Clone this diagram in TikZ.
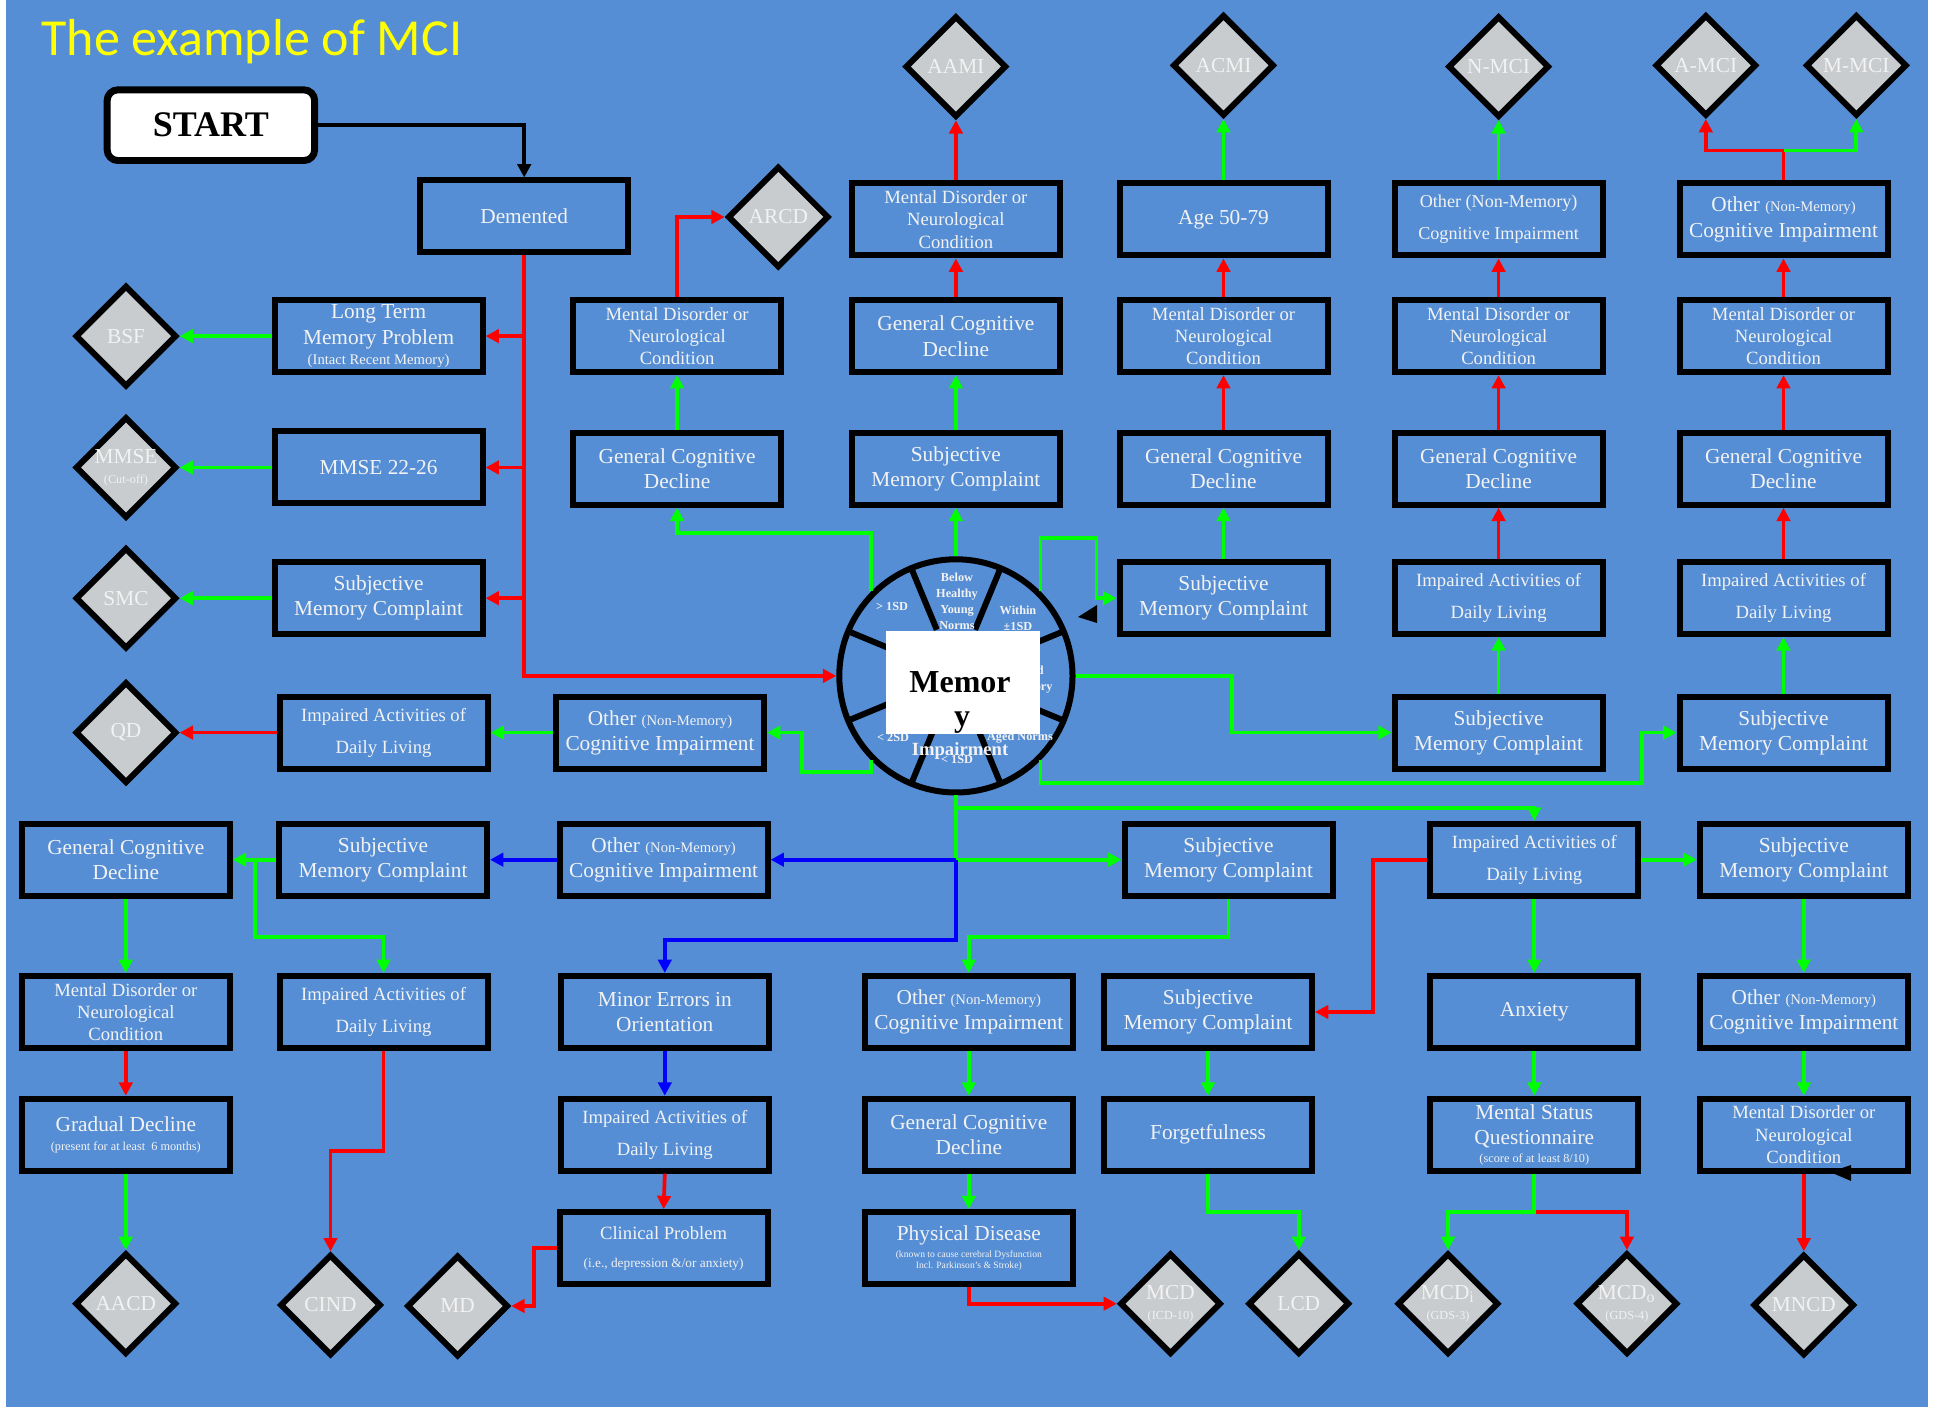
\documentclass[tikz,border=0pt]{standalone}
\usepackage{fontspec}
\setmainfont{Liberation Serif}
\newfontfamily\titlefont{Carlito}
\usetikzlibrary{shapes.geometric, arrows.meta}
\newcommand{\fs}[2]{\fontsize{#1}{#2}\selectfont}
\newcommand{\txSMC}{Subjective\\Memory Complaint}
\newcommand{\txGCD}{General Cognitive\\Decline}
\newcommand{\txMD}{Mental Disorder or\\Neurological\\Condition}
\newcommand{\txIADL}{Impaired Activities of\\[3.5pt]Daily Living}
\newcommand{\txOTH}{Other {\fs{5.5}{6}(Non-Memory)}\\Cognitive Impairment}
\definecolor{bgblue}{RGB}{85,142,213}
\definecolor{dgray}{RGB}{200,204,206}
\definecolor{txt}{RGB}{242,242,242}
\definecolor{gline}{RGB}{0,255,0}
\definecolor{rline}{RGB}{255,0,0}
\definecolor{bline}{RGB}{0,0,255}
\definecolor{ttl}{RGB}{255,255,0}
\tikzset{
  bx/.style={draw=black, line width=2.25pt, fill=bgblue, minimum width=78pt, minimum height=27pt, inner sep=0pt, align=center, text=txt, font=\fs{8}{9.5}},
  mdf/.style={font=\fs{7}{8.3}},
  iaf/.style={font=\fs{7}{8.5}},
  dm/.style={diamond, draw=black, line width=2.25pt, fill=dgray, minimum width=38pt, minimum height=38pt, inner sep=0pt,
     label={[text=txt, font=\fs{8}{8.5}, align=center]center:#1}},
  startbox/.style={draw=black, line width=2.6pt, fill=white, rounded corners=4pt, minimum width=77.8pt, minimum height=26.5pt, font=\bfseries\fs{13.5}{14}},
  cn/.style={line width=1.4pt},
  tip/.style={-{Triangle[length=5pt,width=5pt]}},
  ga/.style={cn, draw=gline, tip},
  ra/.style={cn, draw=rline, tip},
  ba/.style={cn, draw=bline, tip},
  ka/.style={line width=1.6pt, draw=black, tip},
  gl/.style={cn, draw=gline},
  seg/.style={text=txt, font=\bfseries\fs{4.6}{6}, align=center, inner sep=0pt},
}
\begin{document}
\begin{tikzpicture}[x=0.375pt, y=-0.375pt]
\useasboundingbox (0,0) rectangle (1934,1407);
\fill[white] (0,0) rectangle (1934,1407);
\fill[bgblue] (6,0) rectangle (1928,1407);

\node[anchor=base west, inner sep=0pt, text=ttl, font=\titlefont\fs{19.5}{22}] (title) at (41,56) {The example of MCI};

% ---------- boxes ----------
\node[startbox] (start) at (210.9,125.2) {START};
\node[bx] (dem) at (524.2,216.5) {Demented};
\node[bx] (ltm) at (378.6,336.1) {Long Term\\Memory Problem\\[-2pt]{\fs{5.5}{6}(Intact Recent Memory)}};
\node[bx] (mmse) at (378.6,467.5) {MMSE 22-26};
\node[bx] (smcL) at (378.6,598.2) {\txSMC};
\node[bx,iaf] (iadlL) at (383.6,732.6) {\txIADL};
\node[bx] (oth4) at (660,732.6) {\txOTH};

\node[bx,mdf] (md3) at (955.9,219.5) {\txMD};
\node[bx] (age) at (1223.5,219.5) {Age 50-79};
\node[bx,font=\fs{6.8}{8.5}] (oth5) at (1498.6,219.5) {Other (Non-Memory)\\[3.5pt]Cognitive Impairment};
\node[bx] (oth6) at (1783.5,219.5) {\txOTH};

\node[bx,mdf] (md2) at (677.1,336.1) {\txMD};
\node[bx] (gcd3) at (955.9,336.1) {\txGCD};
\node[bx,mdf] (md4) at (1223.5,336.1) {\txMD};
\node[bx,mdf] (md5) at (1498.6,336.1) {\txMD};
\node[bx,mdf] (md6) at (1783.5,336.1) {\txMD};

\node[bx] (gcd2) at (677.1,468.7) {\txGCD};
\node[bx] (smc3) at (955.9,468.7) {\txSMC};
\node[bx] (gcd4) at (1223.5,468.7) {\txGCD};
\node[bx] (gcd5) at (1498.6,468.7) {\txGCD};
\node[bx] (gcd6) at (1783.5,468.7) {\txGCD};

\node[bx] (smc4) at (1223.5,598.2) {\txSMC};
\node[bx,iaf] (iadl5) at (1498.6,598.2) {\txIADL};
\node[bx,iaf] (iadl6) at (1783.5,598.2) {\txIADL};

\node[bx] (smc5) at (1498.6,732.6) {\txSMC};
\node[bx] (smc6) at (1783.5,732.6) {\txSMC};

\node[bx] (gcd5L) at (125.8,859.7) {\txGCD};
\node[bx] (smc5L) at (383,859.7) {\txSMC};
\node[bx] (oth5b) at (663.6,859.7) {\txOTH};
\node[bx] (smc5b) at (1228.5,859.7) {\txSMC};
\node[bx,iaf] (iadl5b) at (1534.3,859.7) {\txIADL};
\node[bx] (smc5R) at (1803.8,859.7) {\txSMC};

\node[bx,mdf] (md6L) at (125.8,1012) {\txMD};
\node[bx,iaf] (iadl6L) at (383.6,1012) {\txIADL};
\node[bx] (minor) at (664.8,1012) {Minor Errors in\\Orientation};
\node[bx] (oth6b) at (968.8,1012) {\txOTH};
\node[bx] (smc6b) at (1208,1012) {\txSMC};
\node[bx] (anx) at (1534.3,1012) {Anxiety};
\node[bx] (oth6R) at (1803.8,1012) {\txOTH};

\node[bx] (grad) at (125.8,1134.7) {Gradual Decline\\[-2.5pt]{\fs{4.6}{5.5}(present for at least \ 6 months)}};
\node[bx,iaf] (iadl7) at (664.8,1134.7) {\txIADL};
\node[bx] (gcd7b) at (968.8,1134.7) {\txGCD};
\node[bx] (forget) at (1208,1134.7) {Forgetfulness};
\node[bx] (msq) at (1534.3,1134.7) {Mental Status\\Questionnaire\\[-3pt]{\fs{4.6}{5.5}(score of at least 8/10)}};
\node[bx,mdf] (md7R) at (1803.8,1134.7) {\txMD};

\node[bx,font=\fs{7}{8.5}] (clin) at (663.6,1248.2) {Clinical Problem\\[2pt]{\fs{5}{6}(i.e., depression \&/or anxiety)}};
\node[bx] (phys) at (968.8,1248.2) {Physical Disease\\[-3pt]{\fs{3.6}{4.3}(known to cause cerebral Dysfunction}\\[-5.5pt]{\fs{3.6}{4.3}Incl. Parkinson's \& Stroke)}};

% ---------- diamonds ----------
\node[dm={BSF}] (bsf) at (126,336.1) {};
\node[dm={MMSE\\[-1pt]{\fs{4.6}{5}(Cut-off)}}] (mmsed) at (126,467.5) {};
\node[dm={SMC}] (smcd) at (126,598.2) {};
\node[dm={QD}] (qd) at (126,732.6) {};
\node[dm={AAMI}] (aami) at (955.9,66.6) {};
\node[dm={ACMI}] (acmi) at (1223.5,65.4) {};
\node[dm={N-MCI}] (nmci) at (1498.6,66.6) {};
\node[dm={A-MCI}] (amci) at (1705.8,65.4) {};
\node[dm={M-MCI}] (mmci) at (1856.3,65.4) {};
\node[dm={ARCD}] (arcd) at (778.3,217) {};
\node[dm={AACD}] (aacd) at (125.8,1303.7) {};
\node[dm={CIND}] (cind) at (330.5,1305) {};
\node[dm={MD}] (mdd) at (457.6,1306) {};
\node[dm={MCD\\[-1pt]{\fs{4.6}{5}(ICD-10)}}] (mcd) at (1170.5,1303.7) {};
\node[dm={LCD}] (lcd) at (1298.8,1303.7) {};
\node[dm={MCD\textsubscript{i}\\[-1pt]{\fs{4.6}{5}(GDS-3)}}] (mcdi) at (1448,1303.7) {};
\node[dm={MCD\textsubscript{o}\\[-1pt]{\fs{4.6}{5}(GDS-4)}}] (mcdo) at (1626.9,1303.7) {};
\node[dm={MNCD}] (mncd) at (1803.8,1305) {};

% ---------- central circle ----------
\node[circle, draw=black, line width=2.25pt, minimum size=87.45pt, inner sep=0pt] (circ) at (955.9,675.9) {};
\foreach \a in {22.5,67.5,...,337.5}
  \draw[line width=2.25pt] (955.9,675.9) ++(\a:50) -- ++(\a:66.6);
\node[seg] (s1) at (892,607) {> 1SD};
\node[seg] (s2) at (957,601) {Below\\Healthy\\Young\\Norms};
\node[seg] (s3) at (1018,618) {Within\\±1SD};
\node[seg] (s4) at (1030,680) {Aged\\Memory};
\node[seg] (s5) at (893,737) {< 2SD};
\node[seg] (s6) at (957,759) {< 1SD};
\node[seg] (s7) at (1020,738) {Aged Norms};
\node[fill=white, minimum width=57.75pt, minimum height=38.6pt, inner sep=0pt] (memrect) at (963,682.5) {};
\node[anchor=base, inner sep=0pt, font=\bfseries\fs{12}{13}] (mem1) at (960,693) {Memor};
\node[anchor=base, inner sep=0pt, font=\bfseries\fs{12}{13}] (mem2) at (962,727) {y};
\node[inner sep=0pt, text=txt, font=\bfseries\fs{7}{8}] (imp) at (960,751) {Impairment};

% stray black triangles
\fill[black] (1078,617) -- (1097,605) -- (1097,623) -- cycle;
\fill[black] (1830,1172) -- (1851,1165) -- (1851,1181) -- cycle;

% ---------- connectors ----------
\draw[ka] (start.east) -| (dem.north);
\draw[ra] (dem.south) |- (circ.west);
\draw[ra] (dem.south |- ltm.east) -- (ltm.east);
\draw[ra] (dem.south |- mmse.east) -- (mmse.east);
\draw[ra] (dem.south |- smcL.east) -- (smcL.east);
\draw[ga] (ltm.west) -- (bsf.east);
\draw[ga] (mmse.west) -- (mmsed.east);
\draw[ga] (smcL.west) -- (smcd.east);
\draw[ra] (iadlL.west) -- (qd.east);
\draw[ga] (oth4.west) -- (iadlL.east);
\draw[ga] (circ.225) |- (802,772) |- (oth4.east);
\draw[ga] (circ.135) |- (677.1,533) -- (gcd2.south);
\draw[ga] (circ.north) -- (smc3.south);
\draw[ga] (circ.45) |- (1096.5,538) |- (smc4.west);
\draw[ga] (circ.east) -| (1232,732.6) -- (smc5.west);
\draw[ga] (circ.-45) |- (1641.7,783) |- (smc6.west);
\draw[ga] (circ.south) |- (1534.3,808) -- (iadl5b.north);
\draw[ga] (955.9,808) |- (smc5b.west);
\draw[ba] (955.9,859.7) -- (oth5b.east);
\draw[ba] (955.9,859.7) |- (664.8,940) -- (minor.north);
\draw[ba] (oth5b.west) -- (smc5L.east);
\draw[ga] (smc5L.west) -- (gcd5L.east);
\draw[ga] (255,859.7) |- (383.6,937) -- (iadl6L.north);
\draw[ga] (gcd5L.south) -- (md6L.north);
\draw[ra] (md6L.south) -- (grad.north);
\draw[ga] (grad.south) -- (aacd.north);
\draw[ra] (iadl6L.south) |- (330.5,1150.8) -- (cind.north);
\draw[ra] (clin.west) -| (534,1306) -- (mdd.east);
\draw[ba] (minor.south) -- (iadl7.north);
\draw[ra] (iadl7.south) -- (clin.north);
\draw[ga] (smc5b.south) |- (968.8,937) -- (oth6b.north);
\draw[ga] (oth6b.south) -- (gcd7b.north);
\draw[ga] (gcd7b.south) -- (phys.north);
\draw[ra] (phys.south) |- (mcd.west);
\draw[ra] (iadl5b.west) -| (1373,1012) -- (smc6b.east);
\draw[ga] (smc6b.south) -- (forget.north);
\draw[ga] (forget.south) |- (1298.8,1212) -- (lcd.north);
\draw[ga] (iadl5b.east) -- (smc5R.west);
\draw[ga] (iadl5b.south) -- (anx.north);
\draw[ga] (anx.south) -- (msq.north);
\draw[ra] (1534.3,1212) -| (mcdo.north);
\draw[ga] (msq.south) |- (1448,1212) -- (mcdi.north);
\draw[ga] (smc5R.south) -- (oth6R.north);
\draw[ga] (oth6R.south) -- (md7R.north);
\draw[ra] (md7R.south) -- (mncd.north);

\draw[ra] (md2.north) |- (arcd.west);
\draw[ga] (gcd2.north) -- (md2.south);
\draw[ga] (smc3.north) -- (gcd3.south);
\draw[ra] (gcd3.north) -- (md3.south);
\draw[ra] (md3.north) -- (aami.south);
\draw[ga] (smc4.north) -- (gcd4.south);
\draw[ra] (gcd4.north) -- (md4.south);
\draw[ra] (md4.north) -- (age.south);
\draw[ga] (age.north) -- (acmi.south);
\draw[ga] (smc5.north) -- (iadl5.south);
\draw[ra] (iadl5.north) -- (gcd5.south);
\draw[ra] (gcd5.north) -- (md5.south);
\draw[ra] (md5.north) -- (oth5.south);
\draw[ga] (oth5.north) -- (nmci.south);
\draw[ga] (smc6.north) -- (iadl6.south);
\draw[ra] (iadl6.north) -- (gcd6.south);
\draw[ra] (gcd6.north) -- (md6.south);
\draw[ra] (md6.north) -- (oth6.south);
\draw[ra] (oth6.north) |- (1705.8,150.5) -- (amci.south);
\draw[ga] (1783.5,150.5) -| (mmci.south);
\end{tikzpicture}
\end{document}
